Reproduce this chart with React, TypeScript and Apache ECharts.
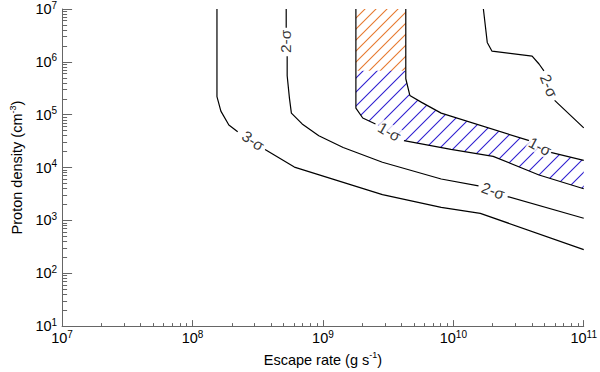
import React, { useEffect, useRef } from 'react';
import * as echarts from 'echarts';

// ---- axis ticks (escape rate in g/s, proton density in cm^-3)
const xMajor = [1e7, 1e8, 1e9, 1e10, 1e11];
const yMajor = [1e1, 1e2, 1e3, 1e4, 1e5, 1e6, 1e7];
const minorMult = [2, 3, 4, 5, 6, 7, 8, 9];

// ---- contour segments [escape rate, proton density] (broken where labels sit)
const sigma3A = [[1.54e8, 1e7], [1.54e8, 2.2e5], [1.65e8, 1.17e5], [1.9e8, 6.4e4], [2.22e8, 4.75e4]];
const sigma3B = [[3.6e8, 2.2e4], [6.04e8, 1.02e4], [2.86e9, 3.07e3], [8.07e9, 1.76e3], [1.61e10, 1.36e3], [1e11, 2.8e2]];

const sigma2LA = [[5.23e8, 1e7], [5.23e8, 4.43e6]];
const sigma2LB = [[5.32e8, 1.28e6], [5.32e8, 5.45e5], [5.54e8, 2.04e5], [5.73e8, 1.07e5], [6.93e8, 6.69e4], [9.3e8, 4.0e4], [1.43e9, 2.39e4], [2.86e9, 1.26e4], [8.07e9, 6.08e3], [1.56e10, 4.51e3]];
const sigma2LC = [[2.61e10, 2.82e3], [1e11, 1.1e3]];

const sigma2RA = [[1.7e10, 1e7], [1.82e10, 2.33e6], [1.98e10, 1.59e6], [4.02e10, 1.28e6], [4.54e10, 9.1e5], [4.95e10, 6.75e5]];
const sigma2RB = [[5.98e10, 1.87e5], [8.03e10, 9.4e4], [1e11, 5.64e4]];

const sigma1L = [[1.79e9, 1e7], [1.79e9, 1.33e5], [2.02e9, 8.65e4], [2.53e9, 6.69e4]];
const sigma1B = [[4.18e9, 3.23e4], [9.59e9, 2.2e4], [2.02e10, 1.63e4], [4.54e10, 7.22e3], [1e11, 3.97e3]];
const sigma1R = [[4.32e9, 1e7], [4.32e9, 4.79e5], [4.64e9, 2.31e5], [5.71e9, 1.71e5], [8.07e9, 1.07e5], [3.82e10, 3.23e4]];
const sigma1T = [[5.58e10, 1.93e4], [1e11, 1.37e4]];

// orange sub-region of the 1-sigma area (above this density)
const orangeFloor = 6.75e5;

// contour labels
const labelTexts = ['3-σ', '2-σ', '2-σ', '2-σ', '1-σ', '1-σ'];
const labelPositions = [[2.92e8, 3.23e4], [5.2e8, 2.44e6], [2.02e10, 3.64e3], [5.4e10, 3.55e5], [3.23e9, 4.75e4], [4.62e10, 2.5e4]];
const labelAngles = [-34, 90, -20, -68, -30, -28];

const FONT = '"Liberation Sans", Arial, sans-serif';
const AXIS_COLOR = '#666';

function hatch(color: string, size: number, bg: string | null) {
  const c = document.createElement('canvas');
  c.width = size;
  c.height = size;
  const ctx = c.getContext('2d')!;
  if (bg) {
    ctx.fillStyle = bg;
    ctx.fillRect(0, 0, size, size);
  }
  ctx.strokeStyle = color;
  ctx.lineWidth = 1.1;
  ctx.beginPath();
  ctx.moveTo(0, size);
  ctx.lineTo(size, 0);
  ctx.moveTo(-2, 2);
  ctx.lineTo(2, -2);
  ctx.moveTo(size - 2, size + 2);
  ctx.lineTo(size + 2, size - 2);
  ctx.stroke();
  return { image: c, repeat: 'repeat', imageWidth: size, imageHeight: size } as any;
}

const rich = {
  b: { fontSize: 14.5, lineHeight: 18, fontFamily: FONT, color: '#000' },
  s: { fontSize: 10, lineHeight: 10, verticalAlign: 'top', fontFamily: FONT, color: '#000' },
};
const nameRich = {
  t: { fontSize: 14.5, lineHeight: 18, fontFamily: FONT, color: '#000' },
  s: { fontSize: 9, lineHeight: 9, verticalAlign: 'top', fontFamily: FONT, color: '#000' },
};
const supFmt = (v: number) => `{b|10}{s|${Math.round(Math.log10(v))}}`;

export default function App() {
  const ref = useRef<HTMLDivElement>(null);
  useEffect(() => {
    const chart = echarts.init(ref.current!, null, { renderer: 'svg' });
    const xMinor: number[] = [];
    xMajor.slice(0, -1).forEach((d) => minorMult.forEach((m) => xMinor.push(d * m)));
    const yMinor: number[] = [];
    yMajor.slice(0, -1).forEach((d) => minorMult.forEach((m) => yMinor.push(d * m)));

    const blueFill = hatch('#3020d0', 14, null);
    const orangeFill = hatch('#e6792f', 11, '#ffffff');

    const poly1 = [...sigma1L, ...sigma1B, ...sigma1T.slice().reverse(), ...sigma1R.slice().reverse()];
    const polyOrange = [
      [sigma1L[0][0], orangeFloor],
      [sigma1R[0][0], orangeFloor],
      [sigma1R[0][0], sigma1R[0][1]],
      [sigma1L[0][0], sigma1L[0][1]],
    ];

    const segs = [sigma3A, sigma3B, sigma2LA, sigma2LB, sigma2LC, sigma2RA, sigma2RB, sigma1L, sigma1B, sigma1R, sigma1T];

    const lineSeries = segs.map((d) => ({
      type: 'line',
      data: d,
      showSymbol: false,
      silent: true,
      z: 3,
      lineStyle: { color: '#000', width: 1.2 },
    }));

    const option: any = {
      animation: false,
      backgroundColor: '#fff',
      grid: { left: 53, right: 14, top: 9, bottom: 40 },
      xAxis: [
        {
          type: 'log',
          logBase: 10,
          min: 1e7,
          max: 1e11,
          position: 'bottom',
          axisLine: { show: true, onZero: false, lineStyle: { color: AXIS_COLOR, width: 1 } },
          axisTick: { show: true, inside: true, length: 6, customValues: xMajor, lineStyle: { color: AXIS_COLOR } },
          axisLabel: { customValues: xMajor, formatter: supFmt, margin: 3, rich, color: '#000' },
          splitLine: { show: false },
          name: '{t|Escape rate (g s}{s|-1}{t|)}',
          nameLocation: 'middle',
          nameGap: 19,
          nameTextStyle: { rich: nameRich },
        },
        {
          type: 'log',
          logBase: 10,
          min: 1e7,
          max: 1e11,
          position: 'bottom',
          axisLine: { show: false, onZero: false },
          axisTick: { show: true, inside: true, length: 3, customValues: xMinor, lineStyle: { color: AXIS_COLOR } },
          axisLabel: { show: false },
          splitLine: { show: false },
        },
      ],
      yAxis: [
        {
          type: 'log',
          logBase: 10,
          min: 1e1,
          max: 1e7,
          position: 'left',
          axisLine: { show: true, onZero: false, lineStyle: { color: AXIS_COLOR, width: 1 } },
          axisTick: { show: true, inside: true, length: 10, customValues: yMajor, lineStyle: { color: AXIS_COLOR } },
          axisLabel: { customValues: yMajor, formatter: supFmt, margin: 5, rich, color: '#000' },
          splitLine: { show: false },
          name: '{t|Proton density (cm}{s|-3}{t|)}',
          nameLocation: 'middle',
          nameRotate: 90,
          nameGap: 29,
          nameTextStyle: { rich: nameRich },
        },
        {
          type: 'log',
          logBase: 10,
          min: 1e1,
          max: 1e7,
          position: 'left',
          axisLine: { show: false, onZero: false },
          axisTick: { show: true, inside: true, length: 5, customValues: yMinor, lineStyle: { color: AXIS_COLOR } },
          axisLabel: { show: false },
          splitLine: { show: false },
        },
      ],
      series: [
        {
          type: 'custom',
          z: 1,
          silent: true,
          clip: true,
          data: [[1e9, 1e5]],
          renderItem: (_p: any, api: any) => ({
            type: 'group',
            children: [
              {
                type: 'polygon',
                shape: { points: poly1.map((p) => api.coord(p)) },
                style: { fill: blueFill, stroke: null },
              },
              {
                type: 'polygon',
                shape: { points: polyOrange.map((p) => api.coord(p)) },
                style: { fill: orangeFill, stroke: null },
              },
            ],
          }),
        },
        ...lineSeries,
        {
          type: 'scatter',
          symbolSize: 0,
          silent: true,
          z: 4,
          data: labelTexts.map((t, i) => ({
            name: t,
            value: labelPositions[i],
            label: {
              rotate: labelAngles[i],
              backgroundColor: t === '1-σ' ? '#fff' : 'transparent',
            },
          })),
          label: {
            show: true,
            position: 'inside',
            formatter: '{b}',
            fontSize: 15.5,
            fontFamily: FONT,
            color: '#000',
            padding: [0, 1],
          },
        },
      ],
    };
    chart.setOption(option);
    return () => chart.dispose();
  }, []);
  return <div ref={ref} style={{ position: 'fixed', left: 0, top: 0, width: 600, height: 372 }} />;
}
